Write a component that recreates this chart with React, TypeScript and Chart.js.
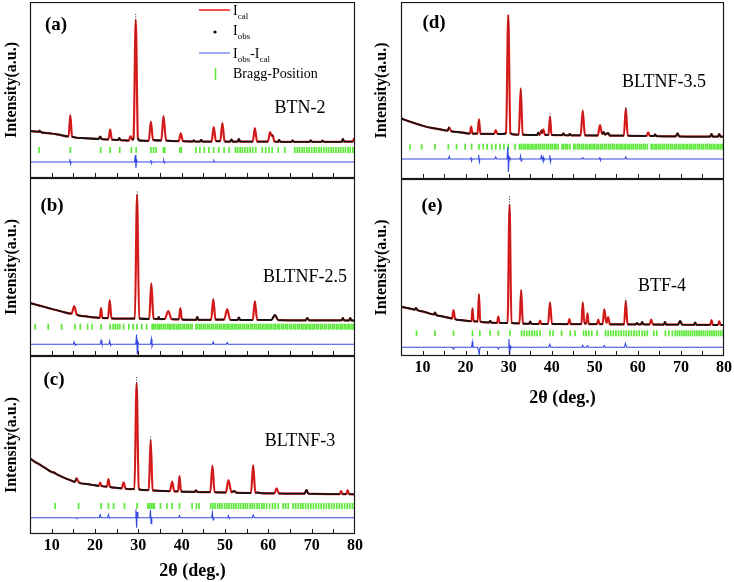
import React, { useEffect, useRef } from "react";
import { Chart, registerables } from "chart.js";

Chart.register(...registerables);

const SERIF = '"Liberation Serif", "Times New Roman", serif';
const RED = "#ee2222";
const BLUE = "#3548e0";
const GREEN = "#5ee83a";
const BLACK = "#141414";

// ---------- (a) BTN-2 ----------
const A_CURVE: [number, number][] = [
  [5, 47], [6.5, 46.3], [7.0, 46.2], [7.2, 47.3], [7.4, 46.1], [9.6, 44.7], [12, 43], [13.9, 41.6], [14.3, 63], [14.7, 41.3],
  [17, 40], [20.8, 39], [21.2, 41.3], [21.6, 38.8], [23.1, 38.5], [23.5, 48.7], [23.9, 38.3], [25.3, 38], [25.6, 40], [25.9, 37.8],
  [27.8, 37.4], [28.2, 42], [28.6, 38], [28.9, 40], [29.4, 158], [29.9, 40], [30.3, 37.5], [32.4, 37.2], [32.9, 56.3], [33.4, 38],
  [35.3, 37.5], [35.8, 62], [36.4, 37.5], [39.3, 36.8], [39.8, 44.7], [40.3, 36.8], [42.5, 36.5], [42.8, 37.6], [43.1, 36.5],
  [44.2, 36.4], [44.5, 38], [44.8, 36.4], [46.9, 36.3], [47.4, 51], [47.9, 36.8], [48.9, 36.8], [49.4, 55], [49.9, 36.5],
  [51.2, 36.3], [51.5, 38.5], [51.8, 36.3], [52.9, 36.3], [53.2, 39], [53.5, 36.3], [56.4, 36.3], [56.9, 50], [57.4, 36.4],
  [59.9, 36.3], [60.4, 46], [60.8, 42], [61.0, 43], [61.4, 36.5], [62.2, 36.2], [62.5, 38], [62.8, 36.2], [65.3, 36.2], [65.6, 37.5],
  [65.9, 36.2], [69.5, 36.2], [69.8, 37.5], [70.1, 36.2], [72.2, 36.2], [72.5, 37.3], [72.8, 36.2], [76.9, 36.2], [77.2, 39],
  [77.5, 36.3], [79.5, 36.4], [79.8, 39.5], [80, 37],
];
const A_DIFF: [number, number][] = [
  [5, 16], [14.0, 16], [14.2, 19], [14.35, 14], [14.5, 16], [29.1, 16], [29.3, 23], [29.45, 10], [29.6, 18], [29.8, 16],
  [32.8, 16], [32.9, 18], [33.05, 14.5], [33.2, 16], [35.7, 16], [35.85, 17.5], [36.0, 15], [36.1, 16], [47.3, 16], [47.45, 17.3],
  [47.6, 16], [80, 16],
];
const A_BRAGG: number[] = [
  7.1, 14.3, 21.3, 23.5, 25.7, 28.4, 29.5, 32.9, 33.5, 34.1, 35.8, 36.1, 39.6, 39.9, 43.3, 44.2, 45.2, 46.3, 47.4, 48.6, 49.8,
  50.9, 52.4, 52.9, 53.5, 54.0, 54.6, 55.2, 55.8, 56.4, 57.1, 58.6, 59.4, 60.2, 60.9, 62.3, 63.8, 66.1, 66.7, 67.2, 67.8, 68.3,
  68.9, 69.4, 70.0, 70.6, 71.1, 71.7, 72.2, 72.8, 73.4, 73.9, 74.5, 75.0, 75.6, 76.2, 76.7, 77.3, 77.8, 78.4, 78.9, 79.5,
];
const A_BRAGG_LEVEL = 28;
const A_TIPS: [number, number, number][] = [[29.4, 158, 164]];

// ---------- (b) BLTNF-2.5 ----------
const B_CURVE: [number, number][] = [
  [5, 53], [6.5, 51.2], [8, 49.5], [10, 47], [12, 44.8], [14.6, 42.3], [15.2, 50], [15.8, 41.4], [17.5, 39.8], [19.5, 38.7],
  [21.1, 38.2], [21.4, 48], [21.7, 38], [23.0, 37.8], [23.4, 56], [23.8, 37.7], [26, 37.3], [29.2, 37.5], [29.7, 161], [30.2, 37.5],
  [32.5, 37], [33.0, 72.7], [33.5, 37.5], [34.5, 36.9], [34.7, 39], [34.9, 36.9], [36.1, 37], [36.9, 45], [37.7, 36.8],
  [39.35, 36.6], [39.7, 48], [40.05, 36.5], [43.3, 36.2], [43.6, 39], [43.9, 36.2], [46.8, 36.2], [47.3, 57], [47.8, 36.4],
  [49.8, 36.3], [50.5, 47], [51.2, 36.2], [52.9, 36], [53.2, 38.5], [53.5, 36], [56.4, 36], [56.9, 55], [57.4, 36.1], [60.7, 36],
  [61.5, 41], [62.3, 35.9], [68.6, 35.7], [69.0, 38], [69.4, 35.7], [76.9, 35.6], [77.2, 38], [77.5, 35.6], [78.6, 35.5],
  [78.9, 38], [79.2, 35.5], [80, 35.5],
];
const B_DIFF: [number, number][] = [
  [5, 11.7], [15.0, 11.7], [15.2, 14.2], [15.4, 10.8], [15.6, 11.7], [21.2, 11.7], [21.4, 15.5], [21.6, 11.7], [23.2, 11.7],
  [23.4, 15], [23.6, 10.5], [23.8, 11.7], [29.4, 11.7], [29.6, 21.5], [29.75, 2.5], [29.9, 14], [30.1, 11.7], [32.8, 11.7],
  [33.0, 17], [33.15, 9.5], [33.3, 11.7], [47.1, 11.7], [47.3, 14], [47.5, 11.7], [50.3, 11.7], [50.5, 13.5], [50.7, 11.7],
  [80, 11.7],
];
const B_BRAGG: number[] = [
  6.2, 9.2, 12.3, 15.4, 16.6, 18.3, 19.3, 21.4, 23.5, 24.2, 24.7, 25.2, 25.7, 26.6, 27.8, 28.8, 29.7, 30.8, 31.9,
  33.2, 33.6, 34.0, 34.5, 34.9, 35.3, 35.8, 36.2, 36.7, 37.1, 37.5, 38.0, 38.4, 38.9, 39.3, 39.7, 40.2, 40.6, 41.1, 41.5,
  42.0, 42.4, 43.3, 43.7, 44.2, 44.6, 45.1, 45.5, 46.0, 46.4, 46.9, 47.3, 47.8, 48.2, 48.7, 49.1, 49.6, 50.0, 50.5, 50.9,
  51.4, 51.8, 52.3, 52.7, 53.2, 53.6, 54.1, 54.5, 55.0, 55.4, 55.9, 56.3, 56.8, 57.2, 57.7, 58.1, 58.6, 59.0, 59.5, 59.9,
  60.4, 60.8, 61.3, 61.7, 62.2, 62.6, 63.1, 63.5, 64.0, 64.4, 64.9, 65.3, 65.8, 66.2, 66.7, 67.1, 67.6, 68.0, 68.5, 68.9,
  69.4, 69.8, 70.3, 70.7, 71.2, 71.6, 72.1, 72.5, 73.0, 73.4, 73.9, 74.3, 74.8, 75.2, 75.7, 76.1, 76.6, 77.0, 77.5, 77.9,
  78.4, 78.8, 79.3, 79.7,
];
const B_BRAGG_LEVEL = 29.3;
const B_TIPS: [number, number, number][] = [[29.7, 161, 165]];

// ---------- (c) BLTNF-3 ----------
const C_CURVE: [number, number][] = [
  [5, 75.7], [6, 72.5], [7, 70], [8.5, 66], [10, 62], [10.4, 61.6], [11.5, 59], [13, 56], [14.5, 53.5], [15.35, 52.2],
  [15.8, 55.7], [16.25, 51.6], [18, 50], [20, 48.7], [20.9, 48.2], [21.2, 51.3], [21.5, 48], [22.75, 47.4], [23.1, 55],
  [23.45, 47.2], [24.5, 46.4], [26.15, 45.6], [26.6, 51.7], [27.05, 45.3], [28, 44.9], [29.1, 45], [29.6, 151], [30.1, 45],
  [31, 44], [32.4, 43.8], [32.85, 94], [33.3, 43.6], [35, 43.2], [37.3, 42.8], [37.8, 52.3], [38.3, 42.7], [39.15, 42.6],
  [39.5, 58], [39.85, 42.5], [43.0, 42.1], [43.3, 43.6], [43.6, 42.1], [46.6, 41.8], [47.1, 68.3], [47.6, 41.8], [50.2, 41.5],
  [50.8, 54], [51.5, 41.7], [52.1, 43], [52.6, 41.3], [56.0, 41], [56.5, 69], [57.0, 41.2], [57.6, 41.5], [58.2, 40.9],
  [61.4, 40.7], [61.9, 45.7], [62.4, 40.7], [68.35, 40.3], [68.8, 44], [69.25, 40.3], [76.5, 39.9], [76.8, 43], [77.1, 39.9],
  [78.0, 39.8], [78.3, 44], [78.6, 39.8], [80, 39.7],
];
const C_DIFF: [number, number][] = [
  [5, 16.3], [15.6, 16.3], [15.8, 15.3], [16.0, 16.3], [21.0, 16.3], [21.2, 19.3], [21.4, 16.3], [22.9, 16.3], [23.1, 19.3],
  [23.3, 15.8], [23.5, 16.3], [29.3, 16.3], [29.45, 24.5], [29.6, 6.3], [29.75, 22], [29.9, 16.3], [32.65, 16.3], [32.8, 24],
  [32.95, 10.3], [33.1, 16.3], [39.3, 16.3], [39.5, 18.3], [39.7, 16.3], [46.9, 16.3], [47.1, 21.3], [47.25, 14], [47.4, 16.3],
  [50.6, 16.3], [50.8, 18.3], [51.0, 15.3], [51.2, 16.3], [56.3, 16.3], [56.5, 19], [56.8, 16.3], [80, 16.3],
];
const C_BRAGG: number[] = [
  10.8, 16.2, 21.4, 23.1, 24.3, 26.8, 29.7, 32.2, 32.6, 33.0, 33.4, 33.7, 35.1, 36.6, 37.8, 39.5, 42.4, 43.4, 44.0,
  46.7, 47.2, 47.7, 48.3, 48.8, 49.3, 49.9, 50.4, 50.9, 51.5, 52.0, 52.5, 53.1, 53.6, 54.2, 54.7, 55.2, 55.8, 56.3, 56.8,
  57.4, 57.9, 58.5, 59.0, 59.6, 60.3, 61.0, 61.6, 62.3, 63.4, 64.0, 64.6, 65.7, 66.3, 66.9, 67.5, 68.0, 68.6, 69.2, 69.8,
  70.4, 71.0, 71.6, 72.2, 72.8, 73.4, 74.0, 74.6, 75.2, 75.8, 76.4, 77.0, 77.6, 78.2, 78.8, 79.4, 79.9,
];
const C_BRAGG_LEVEL = 28;
const C_TIPS: [number, number, number][] = [[29.6, 151, 157], [32.85, 94, 98]];

// ---------- (d) BLTNF-3.5 ----------
const D_CURVE: [number, number][] = [
  [5, 60.7], [6, 59], [7, 57.5], [8.5, 55.3], [10.2, 53], [12.5, 50.8], [14.8, 49], [15.8, 48.3], [16.2, 51.7], [16.6, 47.9],
  [18, 47], [20.3, 45.7], [21.0, 45.5], [21.3, 52.3], [21.6, 45.4], [22.75, 45.3], [23.1, 59.7], [23.45, 45.2], [24.5, 45.1],
  [26.6, 45], [27.0, 49], [27.4, 45], [28.6, 45], [29.4, 46], [29.9, 164], [30.4, 46], [31.2, 44.5], [32.35, 44.3], [32.8, 90.7],
  [33.25, 44.3], [35, 44], [36.6, 44], [36.9, 46.3], [37.2, 44.2], [37.6, 48.5], [37.8, 46], [38.05, 49.7], [38.4, 44.3],
  [39.25, 44], [39.6, 62.3], [39.95, 44], [42.4, 43.8], [42.7, 45.5], [43.0, 43.8], [43.9, 43.7], [44.2, 45], [44.5, 43.7],
  [46.7, 43.6], [47.2, 68.3], [47.7, 43.6], [50.7, 43.5], [51.2, 54], [51.7, 45], [52.0, 47], [52.4, 44.5], [53.1, 46],
  [53.5, 43.4], [56.75, 43.3], [57.2, 70.7], [57.65, 43.3], [62.0, 43], [62.4, 46.7], [62.8, 43], [63.7, 43], [64.0, 44.5],
  [64.3, 42.9], [68.8, 42.7], [69.2, 45.7], [69.6, 42.7], [76.8, 42.4], [77.1, 45], [77.4, 42.4], [78.6, 42.3], [78.9, 45],
  [79.2, 42.3], [80, 42.3],
];
const D_DIFF: [number, number][] = [
  [5, 20], [16.0, 20], [16.2, 22.5], [16.4, 20], [21.1, 20], [21.25, 22], [21.4, 18], [21.55, 20], [22.9, 20], [23.05, 24],
  [23.2, 17], [23.35, 20], [26.8, 20], [27.0, 22], [27.2, 20], [29.6, 20], [29.8, 32], [29.95, 7], [30.1, 22], [30.3, 20],
  [32.6, 20], [32.75, 23], [32.9, 18], [33.05, 20], [37.4, 20], [37.6, 23], [37.8, 19], [38.0, 22], [38.15, 18], [38.3, 20],
  [39.4, 20], [39.55, 24], [39.7, 17], [39.85, 20], [47.0, 20], [47.2, 21.5], [47.4, 20], [51.0, 20], [51.15, 22], [51.3, 18.5],
  [51.45, 20], [57.0, 20], [57.2, 22], [57.4, 20], [80, 20],
];
const D_BRAGG: number[] = [
  7.1, 9.8, 12.9, 16.0, 17.9, 19.9, 21.4, 23.1, 24.1, 25.0, 26.1, 27.0, 28.0, 28.9, 29.9, 31.5,
  32.5, 32.9, 33.4, 33.8, 34.3, 34.7, 35.2, 35.6, 36.1, 36.5, 37.0, 37.4, 37.9, 38.3, 38.8, 39.2, 39.7, 40.1, 40.6, 41.0,
  41.5, 42.4, 42.8, 43.3, 43.7, 44.2, 45.1, 45.5, 46.0, 46.4, 46.9, 47.3, 47.8, 48.2, 48.7, 49.1, 49.6, 50.0, 50.5, 50.9,
  51.4, 51.8, 52.3, 52.7, 53.2, 53.6, 54.1, 54.5, 55.0, 55.4, 55.9, 56.3, 56.8, 57.2, 57.7, 58.1, 58.6, 59.0, 59.5, 59.9,
  60.4, 60.8, 61.3, 61.7, 62.2, 63.1, 63.5, 64.0, 64.4, 64.9, 65.3, 65.8, 66.2, 66.7, 67.1, 67.6, 68.0, 68.5, 68.9, 69.4,
  69.8, 70.3, 70.7, 71.2, 71.6, 72.1, 72.5, 73.0, 73.4, 73.9, 74.3, 74.8, 75.2, 75.7, 76.1, 76.6, 77.0, 77.5, 77.9, 78.4,
  78.8, 79.3, 79.7,
];
const D_BRAGG_LEVEL = 32.3;
const D_TIPS: [number, number, number][] = [[39.6, 62.3, 66], [57.2, 70.7, 73]];

// ---------- (e) BTF-4 ----------
const E_CURVE: [number, number][] = [
  [5, 49.3], [7, 47.5], [8.2, 46.4], [8.5, 48], [8.8, 46], [10, 44.6], [11.5, 42.7], [12.6, 41.5], [12.9, 43.5], [13.2, 41],
  [14.1, 40], [16.5, 37.8], [16.85, 37.5], [17.2, 46], [17.55, 37.1], [18.7, 36], [21.35, 34.9], [21.6, 47.7], [21.85, 34.8],
  [22.8, 34.5], [23.1, 62], [23.4, 34.3], [25.4, 33.5], [25.7, 35], [26.0, 33.4], [27.3, 33.2], [27.6, 39.3], [27.9, 33.1],
  [29.75, 33], [30.2, 151], [30.65, 33], [32.5, 32.6], [32.9, 66], [33.3, 32.5], [34.7, 32.1], [35.0, 34.5], [35.3, 32.1],
  [37.0, 32], [37.3, 35.5], [37.6, 32], [39.15, 32], [39.6, 53.7], [40.05, 32], [43.8, 31.9], [44.1, 37], [44.4, 31.9],
  [46.9, 31.9], [47.2, 53.7], [47.6, 32.5], [48.0, 32.5], [48.3, 42.7], [48.6, 31.9], [50.5, 31.8], [50.8, 36.5], [51.1, 31.8],
  [51.8, 31.9], [52.2, 46.7], [52.7, 33], [53.1, 39], [53.5, 31.7], [56.8, 31.7], [57.2, 55], [57.6, 31.7], [59.5, 31.6],
  [59.8, 33], [60.1, 31.6], [60.7, 31.6], [61.0, 34], [61.3, 31.6], [62.7, 31.5], [63.1, 36.5], [63.5, 31.5], [66.0, 31.4],
  [66.3, 34], [66.6, 31.4], [69.3, 31.3], [69.8, 35], [70.3, 31.3], [73.0, 31.2], [73.3, 33.5], [73.6, 31.2], [76.8, 31.1],
  [77.1, 36], [77.4, 31.1], [78.6, 31], [78.9, 35], [79.2, 31], [80, 31],
];
const E_DIFF: [number, number][] = [
  [5, 8.7], [16.9, 8.7], [17.1, 7], [17.3, 8.7], [21.4, 8.7], [21.55, 14], [21.7, 8.7], [22.8, 8.7], [23.0, 5], [23.15, 1.5],
  [23.35, 8.7], [27.4, 8.7], [27.6, 7], [27.8, 8.7], [29.9, 8.7], [30.05, 17], [30.2, -1], [30.35, 10], [30.5, 8.7],
  [39.3, 8.7], [39.55, 11.7], [39.8, 8.7], [47.0, 8.7], [47.2, 10.7], [47.4, 8.7], [48.1, 8.7], [48.3, 10.3], [48.5, 8.7],
  [52.0, 8.7], [52.2, 10.5], [52.4, 8.7], [56.9, 8.7], [57.1, 12.7], [57.4, 8.7], [80, 8.7],
];
const E_BRAGG: number[] = [
  8.6, 12.9, 17.2, 21.6, 23.3, 25.7, 27.6, 30.3, 33.0, 33.6, 34.2, 34.8, 35.4, 36.0, 36.6, 37.3, 39.6, 40.3, 42.3, 44.3,
  45.4, 47.4, 48.0, 48.6, 49.3, 50.5, 52.5, 53.1, 53.7, 54.3, 54.9, 55.5, 56.1, 56.7, 57.3, 57.9, 58.5, 59.1, 59.7, 60.3,
  61.0, 61.6, 62.2, 63.7, 64.4, 66.4, 67.2, 68.0, 68.7, 69.2, 69.7, 70.2, 70.7, 71.2, 71.7, 72.2, 72.7, 73.2, 73.7, 74.2,
  74.7, 75.2, 75.7, 76.2, 76.7, 77.2, 77.7, 78.2, 78.7, 79.2, 79.7,
];
const E_BRAGG_LEVEL = 22.7;
const E_TIPS: [number, number, number][] = [[30.2, 151, 161], [57.2, 55, 58]];

const X_TICK_LABELS = ["10", "20", "30", "40", "50", "60", "70", "80"];

type Panel = {
  id: string;
  left: number; top: number; width: number; height: number;
  yAxisWidth: number; padRight: number; xAxisHeight: number; showX: boolean; titlePadBottom: number;
  yMax: number;
  curve: [number, number][]; diff: [number, number][]; bragg: number[]; braggLevel: number;
  tips: [number, number, number][];
  tag: string; tagPos: [number, number]; sample: string; samplePos: [number, number]; legend: boolean;
};

const PANELS: Panel[] = [
  { id: "a", left: 0, top: 2, width: 375, height: 176, yAxisWidth: 30, padRight: 20, xAxisHeight: 0, showX: false, titlePadBottom: 0,
    yMax: 176, curve: A_CURVE, diff: A_DIFF, bragg: A_BRAGG, braggLevel: A_BRAGG_LEVEL, tips: A_TIPS,
    tag: "(a)", tagPos: [56, 25], sample: "BTN-2", samplePos: [300, 108], legend: true },
  { id: "b", left: 0, top: 178, width: 375, height: 178, yAxisWidth: 30, padRight: 20, xAxisHeight: 0, showX: false, titlePadBottom: 0,
    yMax: 178, curve: B_CURVE, diff: B_DIFF, bragg: B_BRAGG, braggLevel: B_BRAGG_LEVEL, tips: B_TIPS,
    tag: "(b)", tagPos: [52, 206], sample: "BLTNF-2.5", samplePos: [305, 277], legend: false },
  { id: "c", left: 0, top: 356, width: 375, height: 226, yAxisWidth: 30, padRight: 20, xAxisHeight: 48, showX: true, titlePadBottom: 0,
    yMax: 178, curve: C_CURVE, diff: C_DIFF, bragg: C_BRAGG, braggLevel: C_BRAGG_LEVEL, tips: C_TIPS,
    tag: "(c)", tagPos: [54, 380], sample: "BLTNF-3", samplePos: [300, 441], legend: false },
  { id: "d", left: 370, top: 2, width: 364, height: 177, yAxisWidth: 31, padRight: 10, xAxisHeight: 0, showX: false, titlePadBottom: 0,
    yMax: 177, curve: D_CURVE, diff: D_DIFF, bragg: D_BRAGG, braggLevel: D_BRAGG_LEVEL, tips: D_TIPS,
    tag: "(d)", tagPos: [434, 23], sample: "BLTNF-3.5", samplePos: [664, 82], legend: false },
  { id: "e", left: 370, top: 179, width: 364, height: 231, yAxisWidth: 31, padRight: 10, xAxisHeight: 54, showX: true, titlePadBottom: 1,
    yMax: 177, curve: E_CURVE, diff: E_DIFF, bragg: E_BRAGG, braggLevel: E_BRAGG_LEVEL, tips: E_TIPS,
    tag: "(e)", tagPos: [432, 206], sample: "BTF-4", samplePos: [662, 286], legend: false },
];

function drawRich(ctx: CanvasRenderingContext2D, x: number, y: number, parts: [string, boolean][]) {
  let cx = x;
  for (const [s, sub] of parts) {
    ctx.font = sub ? `9px ${SERIF}` : `14px ${SERIF}`;
    ctx.fillText(s, cx, sub ? y + 6 : y);
    cx += ctx.measureText(s).width;
  }
}

function makePlugin(p: Panel) {
  return {
    id: "decor_" + p.id,
    afterDraw(chart: any) {
      const ctx: CanvasRenderingContext2D = chart.ctx;
      const a = chart.chartArea;
      const xs = chart.scales.x;
      ctx.save();
      ctx.strokeStyle = "#1a1a1a";
      ctx.lineWidth = 1.2;
      ctx.strokeRect(a.left + 0.5, a.top + 0.5, a.right - a.left - 1, a.bottom - a.top - 1);
      ctx.beginPath();
      ctx.lineWidth = 1;
      for (const t of xs.ticks) {
        if (t.value <= 5 || t.value >= 80) continue;
        const px = Math.round(xs.getPixelForValue(t.value)) + 0.5;
        ctx.moveTo(px, a.bottom);
        ctx.lineTo(px, a.bottom - 5);
      }
      ctx.stroke();
      const ox = p.left, oy = p.top;
      ctx.fillStyle = "#000";
      ctx.textBaseline = "middle";
      ctx.textAlign = "center";
      ctx.font = `bold 19px ${SERIF}`;
      ctx.fillText(p.tag, p.tagPos[0] - ox, p.tagPos[1] - oy);
      ctx.font = `18px ${SERIF}`;
      ctx.fillText(p.sample, p.samplePos[0] - ox, p.samplePos[1] - oy);
      if (p.legend) {
        ctx.textAlign = "left";
        ctx.strokeStyle = "#f04040"; ctx.lineWidth = 1.8;
        ctx.beginPath(); ctx.moveTo(199 - ox, 10 - oy); ctx.lineTo(230 - ox, 10 - oy); ctx.stroke();
        drawRich(ctx, 233 - ox, 11 - oy, [["I", false], ["cal", true]]);
        ctx.fillStyle = "#000";
        ctx.beginPath(); ctx.arc(215 - ox, 32 - oy, 1.6, 0, Math.PI * 2); ctx.fill();
        drawRich(ctx, 233 - ox, 31 - oy, [["I", false], ["obs", true]]);
        ctx.strokeStyle = "#5a6cf0"; ctx.lineWidth = 1.2;
        ctx.beginPath(); ctx.moveTo(199 - ox, 53 - oy); ctx.lineTo(230 - ox, 53 - oy); ctx.stroke();
        drawRich(ctx, 233 - ox, 54 - oy, [["I", false], ["obs", true], ["-I", false], ["cal", true]]);
        ctx.strokeStyle = GREEN; ctx.lineWidth = 1.6;
        ctx.beginPath(); ctx.moveTo(215.5 - ox, 68 - oy); ctx.lineTo(215.5 - ox, 80 - oy); ctx.stroke();
        ctx.font = `14px ${SERIF}`;
        ctx.fillText("Bragg-Position", 233 - ox, 74 - oy);
      }
      ctx.restore();
    },
  };
}

function makeConfig(p: Panel): any {
  const pts = (arr: [number, number][]) => arr.map(([x, y]) => ({ x, y }));
  const tipData: any[] = [];
  p.tips.forEach(([x, y0, y1]) => {
    tipData.push({ x, y: y0 }, { x, y: y1 }, { x: x + 0.01, y: null });
  });
  const steep = (c: any) => {
    const dx = Math.abs(c.p1.x - c.p0.x);
    const dy = Math.abs(c.p1.y - c.p0.y);
    return dy > 3 && dy > 2 * dx;
  };
  return {
    type: "line",
    data: {
      datasets: [
        { label: "Iobs tip", data: tipData, borderColor: "#333", borderWidth: 1, borderDash: [1, 1.5], pointRadius: 0, spanGaps: false, order: 0 },
        {
          label: "Iobs", data: pts(p.curve), borderColor: BLACK, borderWidth: 1.8, pointRadius: 0,
          cubicInterpolationMode: "monotone", order: 1,
          segment: {
            borderColor: (c: any) => (steep(c) ? "rgba(30,0,0,0.4)" : BLACK),
            borderWidth: (c: any) => (steep(c) ? 0.6 : 1.8),
          },
        },
        { label: "Ical", data: pts(p.curve), borderColor: RED, borderWidth: 2.2, pointRadius: 0, cubicInterpolationMode: "monotone", order: 2 },
        { label: "Iobs-Ical", data: pts(p.diff), borderColor: BLUE, borderWidth: 1.1, pointRadius: 0, order: 3 },
        {
          label: "Bragg-Position", data: p.bragg.map((x) => ({ x, y: p.braggLevel })), showLine: false,
          pointStyle: "line", pointRotation: 90, pointRadius: 3, pointBorderColor: GREEN, pointBorderWidth: 1.7,
          borderColor: GREEN, pointHoverRadius: 3, order: 4,
        },
      ],
    },
    options: {
      animation: false,
      responsive: false,
      maintainAspectRatio: false,
      devicePixelRatio: 1,
      events: [],
      layout: { autoPadding: false, padding: { left: 0, right: p.padRight, top: 0, bottom: 0 } },
      plugins: { legend: { display: false }, tooltip: { enabled: false } },
      scales: {
        x: {
          type: "linear", min: 5, max: 80,
          ticks: {
            display: p.showX, stepSize: 5, autoSkip: false, maxRotation: 0, padding: 2, color: "#000",
            font: { family: SERIF, size: 16, weight: "bold" },
            callback: (v: number) => (X_TICK_LABELS.includes(String(v)) ? String(v) : ""),
          },
          grid: { display: false, drawTicks: false },
          border: { display: false },
          title: {
            display: p.showX, text: "2θ (deg.)", color: "#000",
            font: { family: SERIF, size: 18, weight: "bold" },
            padding: { top: 0, bottom: p.titlePadBottom },
          },
          afterFit: (s: any) => { s.height = p.xAxisHeight; },
        },
        y: {
          type: "linear", min: 0, max: p.yMax,
          ticks: { display: false },
          grid: { display: false, drawTicks: false },
          border: { display: false },
          title: {
            display: true, text: "Intensity(a.u.)", color: "#000",
            font: { family: SERIF, size: 16, weight: "bold" },
            padding: { top: 2, bottom: 0 },
          },
          afterFit: (s: any) => { s.width = p.yAxisWidth; },
        },
      },
    },
    plugins: [makePlugin(p)],
  };
}

function PanelChart({ p }: { p: Panel }) {
  const ref = useRef<HTMLCanvasElement>(null);
  useEffect(() => {
    if (!ref.current) return;
    const chart = new Chart(ref.current, makeConfig(p));
    return () => chart.destroy();
  }, [p]);
  return (
    <canvas
      ref={ref}
      width={p.width}
      height={p.height}
      style={{ position: "absolute", left: p.left, top: p.top, width: p.width, height: p.height }}
    />
  );
}

export default function App() {
  return (
    <div style={{ position: "absolute", left: 0, top: 0, width: 734, height: 582, background: "#fff", overflow: "hidden" }}>
      {PANELS.map((p) => (
        <PanelChart key={p.id} p={p} />
      ))}
    </div>
  );
}
